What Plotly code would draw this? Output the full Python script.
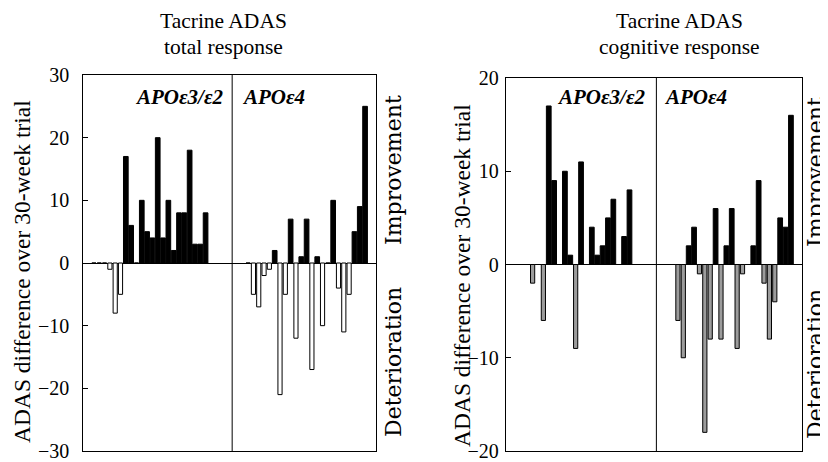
import plotly.graph_objects as go

# ---------------- data ----------------
total_e3 = [0, 0, 0, -1, -8, -5, 17, 6, 0, 10, 5, 4, 20, 4, 10, 2, 8, 8, 18, 3, 3, 8]
total_e4 = [0, -5, -7, -2, -1, 2, -21, -5, 7, -12, 1, 7, -17, 1, -10, 0, 10, -4, -11, -5, 5, 9, 25]
cog_e3 = [0, 0, 0, -2, 0, -6, 17, 9, 0, 10, 1, -9, 11, 0, 4, 1, 2, 5, 7, 0, 3, 8]
cog_e4 = [0, -6, -10, 2, 4, -1, -18, -8, 6, -8, 2, 6, -9, -1, 0, 2, 9, -2, -8, -4, 5, 4, 16]
ticks_total = [-30, -20, -10, 0, 10, 20, 30]
ticks_cog = [-20, -10, 0, 10, 20]
group_labels = ["APOε3/ε2", "APOε4"]
title_lines = [("Tacrine ADAS", "total response"), ("Tacrine ADAS", "cognitive response")]
ytitle = "ADAS difference over 30-week trial"

# ---------------- layout constants ----------------
W, H = 828, 462
OFF = 8  # page body margin of the browser
SERIF = "Liberation Serif, Times New Roman, serif"
WIDE_SERIF = "DejaVu Serif, serif"
START1, START2, DIVIDER, XMAX = 2, 31, 28, 55


def px_x(p):
    return (p - OFF) / W


def px_y(p):
    return 1 - (p - OFF) / H


def bar_trace(e3, e4, neg_color, xa, ya):
    vals = e3 + e4
    xs = list(range(START1, START1 + len(e3))) + list(range(START2, START2 + len(e4)))
    colors = ["black" if v > 0 else neg_color for v in vals]
    widths = [0.88 if v > 0 else 0.78 for v in vals]
    return go.Bar(x=xs, y=vals, width=widths, xaxis=xa, yaxis=ya,
                  marker=dict(color=colors, line=dict(color="black", width=1)),
                  showlegend=False, hoverinfo="x+y")


fig = go.Figure()
fig.add_trace(bar_trace(total_e3, total_e4, "white", "x", "y"))
fig.add_trace(bar_trace(cog_e3, cog_e4, "#9c9c9c", "x2", "y2"))

axis_common = dict(showline=True, mirror=True, linecolor="black", linewidth=1,
                   showgrid=False, automargin=False)
fig.update_layout(
    width=W, height=H, margin=dict(l=0, r=0, t=0, b=0, autoexpand=False),
    paper_bgcolor="white", plot_bgcolor="white", barmode="overlay",
    font=dict(family=SERIF, color="black"),
    xaxis=dict(domain=[px_x(83.3), px_x(375.7)], range=[0, XMAX], anchor="y",
               showticklabels=False, ticks="", zeroline=False, **axis_common),
    yaxis=dict(domain=[px_y(451), px_y(75)], range=[-30, 30], anchor="x",
               tickvals=ticks_total, ticks="inside", ticklen=5, tickcolor="black",
               tickfont=dict(family=SERIF, size=20), ticklabelstandoff=9,
               zeroline=True, zerolinecolor="black", zerolinewidth=1, **axis_common),
    xaxis2=dict(domain=[px_x(505.7), px_x(801.7)], range=[0, XMAX], anchor="y2",
                showticklabels=False, ticks="", zeroline=False, **axis_common),
    yaxis2=dict(domain=[px_y(451), px_y(78)], range=[-20, 20], anchor="x2",
                tickvals=ticks_cog, ticks="inside", ticklen=5, tickcolor="black",
                tickfont=dict(family=SERIF, size=20), ticklabelstandoff=2,
                zeroline=True, zerolinecolor="black", zerolinewidth=1, **axis_common),
)

for xa in ["x", "x2"]:
    fig.add_shape(type="line", xref=xa, yref=("y" if xa == "x" else "y2") + " domain",
                  x0=DIVIDER, x1=DIVIDER, y0=0, y1=1, line=dict(color="black", width=1))


def note(cx, cy, text, size, angle=0, xanchor="center", family=SERIF):
    return dict(x=px_x(cx), y=px_y(cy), text=text, textangle=angle, showarrow=False,
                xref="paper", yref="paper", xanchor=xanchor, yanchor="middle",
                font=dict(size=size, family=family), align="center")


ann = []
for cx, (l1, l2) in zip([223, 679], title_lines):
    ann.append(note(cx, 21, l1, 21.5))
    ann.append(note(cx, 47, l2, 21.5))
for cx, cy in [(22, 272), (462, 276)]:
    ann.append(note(cx, cy, ytitle, 23.5, -90))
for cx, cyi, cyd in [(393, 170, 362), (815, 172, 364)]:
    ann.append(note(cx, cyi, "Improvement", 22, -90, family=WIDE_SERIF))
    ann.append(note(cx, cyd, "Deterioration", 22, -90, family=WIDE_SERIF))
for xr, xl in [(226, 240), (648, 662)]:
    ann.append(note(xr, 97, "<b><i>" + group_labels[0] + "</i></b>", 21, xanchor="right"))
    ann.append(note(xl, 97, "<b><i>" + group_labels[1] + "</i></b>", 21, xanchor="left"))
fig.update_layout(annotations=ann)

fig.write_html("out.html")
